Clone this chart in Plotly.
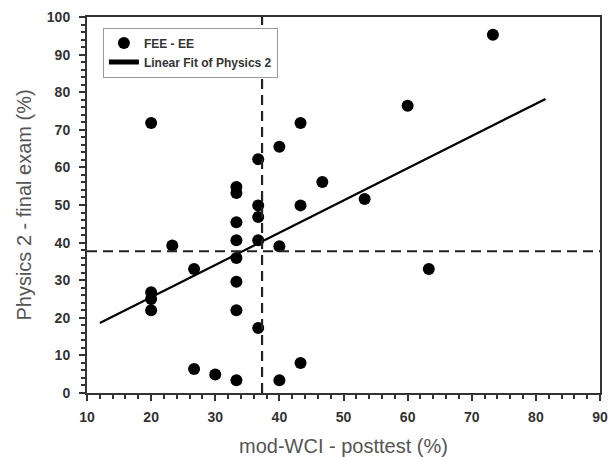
import plotly.graph_objects as go

# Data
wci_posttest = [20, 73.3, 60, 43.3, 40, 36.7, 46.7, 33.3, 33.3, 36.7, 43.3, 53.3,
                36.7, 33.3, 33.3, 36.7, 23.3, 40, 33.3, 26.7, 63.3, 33.3, 20, 20,
                20, 33.3, 36.7, 43.3, 26.7, 30, 33.3, 40]
final_exam = [71.8, 95.3, 76.4, 71.8, 65.5, 62.2, 56.1, 54.8, 53.2, 49.9, 49.9, 51.6,
              46.8, 45.4, 40.6, 40.6, 39.2, 39.0, 35.9, 33.0, 33.0, 29.6, 26.8, 25.0,
              22.0, 22.0, 17.3, 8.0, 6.4, 4.9, 3.4, 3.4]
fit_x = [12, 81.5]
fit_y = [18.6, 78.2]
mean_wci = 37.3
mean_exam = 37.7
x_ticks = [10, 20, 30, 40, 50, 60, 70, 80, 90]
y_ticks = [0, 10, 20, 30, 40, 50, 60, 70, 80, 90, 100]

fig = go.Figure()

fig.add_trace(go.Scatter(
    x=wci_posttest, y=final_exam, mode="markers", name="FEE - EE",
    marker=dict(color="black", size=12, line=dict(width=0)),
))
fig.add_trace(go.Scatter(
    x=fit_x, y=fit_y, mode="lines", name="Linear Fit of Physics 2",
    line=dict(color="black", width=2.2),
))

fig.add_shape(type="line", xref="x", yref="paper", x0=mean_wci, x1=mean_wci, y0=0, y1=1,
              line=dict(color="#222", width=2.2, dash="10px,6px"))
fig.add_shape(type="line", xref="paper", yref="y", x0=0, x1=1, y0=mean_exam, y1=mean_exam,
              line=dict(color="#222", width=2.2, dash="10px,6px"))

axis_common = dict(
    showline=True, linecolor="#333", linewidth=2, mirror=True,
    ticks="outside", ticklen=6, tickwidth=2, tickcolor="#333",
    showgrid=False, zeroline=False, automargin=False,
    tickfont=dict(family="Liberation Sans", size=14, color="#333", weight="bold"),
    minor=dict(ticks="outside", ticklen=4, tickwidth=1.5, tickcolor="#333", dtick=2, showgrid=False),
)

fig.update_xaxes(range=[10, 90], tickvals=x_ticks, ticklabelstandoff=4,
                 title=dict(text="mod-WCI - posttest (%)", standoff=17,
                            font=dict(family="Liberation Sans", size=20, color="#555")),
                 **axis_common)
fig.update_yaxes(range=[0, 100], tickvals=y_ticks, ticklabelstandoff=6,
                 title=dict(text="Physics 2 - final exam (%)", standoff=10,
                            font=dict(family="Liberation Sans", size=20, color="#555")),
                 **axis_common)

fig.update_layout(
    width=614, height=457,
    margin=dict(l=87, r=14, t=17, b=64, autoexpand=False),
    plot_bgcolor="white", paper_bgcolor="white",
    showlegend=True,
    legend=dict(x=0.031, y=0.972, xanchor="left", yanchor="top",
                bordercolor="#999", borderwidth=1, bgcolor="white",
                font=dict(family="Liberation Sans", size=12, color="#333", weight="bold"),
                tracegroupgap=0, itemwidth=30, itemsizing="constant"),
)

fig.write_html("out.html", post_script="document.body.style.margin='0';",
               config={"displayModeBar": False})
